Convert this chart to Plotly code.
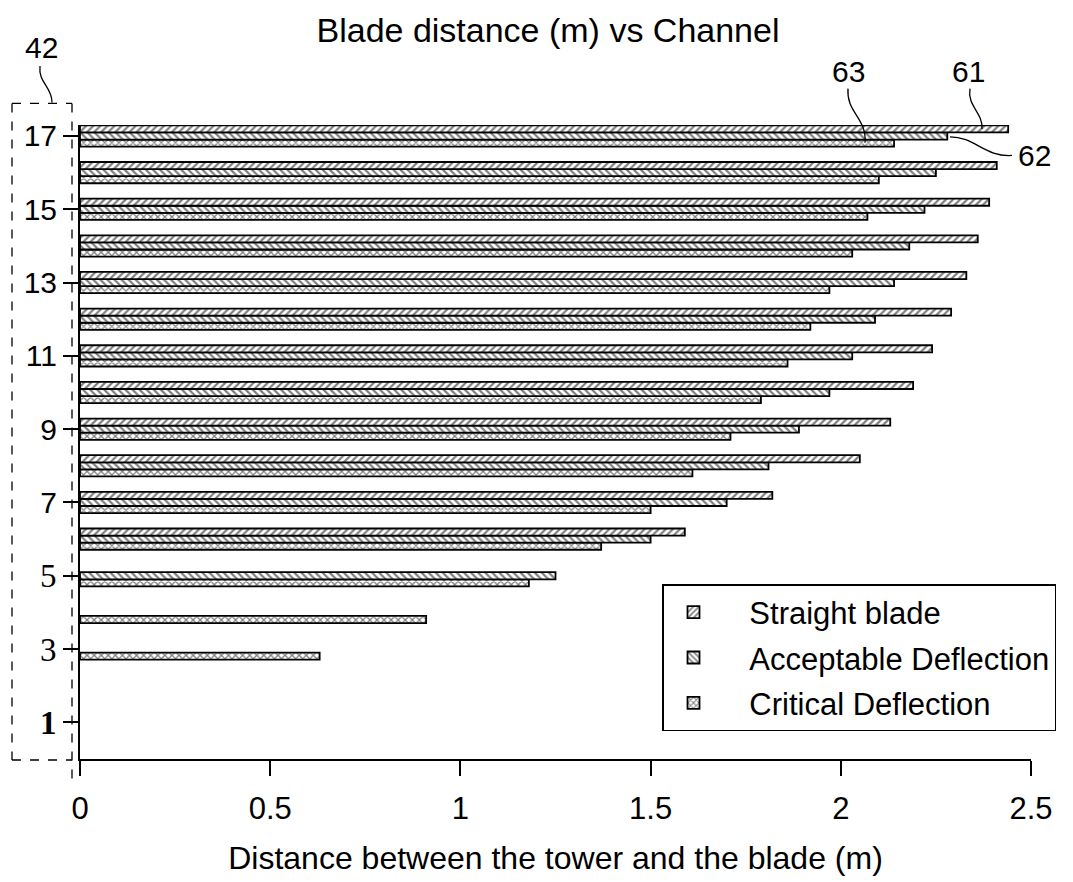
import plotly.graph_objects as go

# ---- data ----
channels = list(range(1, 18))
straight_blade = [None, None, None, None, None, 1.59, 1.82, 2.05, 2.13, 2.19, 2.24, 2.29, 2.33, 2.36, 2.39, 2.41, 2.44]
acceptable_deflection = [None, None, None, None, 1.25, 1.50, 1.70, 1.81, 1.89, 1.97, 2.03, 2.09, 2.14, 2.18, 2.22, 2.25, 2.28]
critical_deflection = [None, None, 0.63, 0.91, 1.18, 1.37, 1.50, 1.61, 1.71, 1.79, 1.86, 1.92, 1.97, 2.03, 2.07, 2.10, 2.14]

x_tickvals = [0, 0.5, 1, 1.5, 2, 2.5]
x_ticktext = ["0", "0.5", "1", "1.5", "2", "2.5"]
y_tickvals_upper = [7, 9, 11, 13, 15, 17]
y_ticktext_upper = ["7", "9", "11", "13", "15", "17"]
y_tickvals_lower = [1, 3, 5]
y_ticktext_lower = ["<b>1</b>", "3", "5"]

series_names = ["Straight blade", "Acceptable Deflection", "Critical Deflection"]

W, H = 1073, 882
ML, MR, MT, MB = 80, 42, 125, 112
PW, PH = W - ML - MR, H - MT - MB
FONT = "Liberation Sans"
SERIF = "Liberation Serif"
NB = "\u00a0" * 3
Y_RANGE = [0, 17.3]


def px(xp):
    return (xp - ML) / PW


def py(yp):
    return (H - MB - yp) / PH


def path(points):
    (x0, y0) = points[0]
    s = f"M {px(x0):.5f},{py(y0):.5f} C"
    for (x, y) in points[1:]:
        s += f" {px(x):.5f},{py(y):.5f}"
    return s


fig = go.Figure()

styles = [
    (series_names[2], critical_deflection, "x", 3),
    (series_names[1], acceptable_deflection, "\\", 2),
    (series_names[0], straight_blade, "/", 1),
]
for name, vals, shape, rank in styles:
    fig.add_trace(go.Bar(
        y=channels, x=vals, orientation="h", name=NB + name,
        legendrank=rank, legendgroup=name,
        marker=dict(color="white",
                    line=dict(color="black", width=1.8),
                    pattern=dict(shape=shape, fgcolor="black", bgcolor="white",
                                 size=5, solidity=0.45)),
    ))

# empty trace so the overlaying axis (serif labels 1, 3, 5) is drawn
fig.add_trace(go.Scatter(x=[], y=[], yaxis="y2", showlegend=False, hoverinfo="skip"))

axis_common = dict(showline=True, linecolor="black", linewidth=2,
                   ticks="outside", ticklen=15, tickwidth=1.5, tickcolor="black",
                   showgrid=False, zeroline=False)

fig.update_layout(
    width=W, height=H,
    margin=dict(l=ML, r=MR, t=MT, b=MB),
    paper_bgcolor="white", plot_bgcolor="white",
    font=dict(family=FONT, color="black", size=31),
    barmode="group", bargap=0.42, bargroupgap=0,
    title=dict(text="Blade distance (m) vs Channel", x=548 / W, xanchor="center",
               y=1 - 30 / H, yanchor="middle", xref="container", yref="container",
               font=dict(size=34, family=FONT)),
    legend=dict(x=px(662), y=py(592), xanchor="left", yanchor="top",
                bordercolor="black", borderwidth=1.5, bgcolor="white",
                font=dict(size=31, family=FONT), tracegroupgap=2,
                traceorder="grouped", itemwidth=50),
    xaxis=dict(range=[0, 2.5], tickvals=x_tickvals, ticktext=x_ticktext,
               ticklabelstandoff=6,
               title=dict(text="Distance between the tower and the blade (m)",
                          font=dict(size=32), standoff=21),
               **axis_common),
    yaxis=dict(range=Y_RANGE, tickvals=y_tickvals_upper, ticktext=y_ticktext_upper,
               tickfont=dict(family=FONT, size=30), **axis_common),
    yaxis2=dict(range=Y_RANGE, overlaying="y", side="left", anchor="x",
                tickvals=y_tickvals_lower, ticktext=y_ticktext_lower,
                tickfont=dict(family=SERIF, size=33), **axis_common),
)

dash = dict(color="black", width=1.3, dash="dash")
# dashed box around the channel labels (reference 42)
fig.add_shape(type="line", xref="paper", yref="paper", x0=px(12), y0=py(103), x1=px(72), y1=py(103), line=dash)
fig.add_shape(type="line", xref="paper", yref="paper", x0=px(12), y0=py(103), x1=px(12), y1=py(771), line=dash)
fig.add_shape(type="line", xref="paper", yref="paper", x0=px(12), y0=py(771), x1=px(72), y1=py(771), line=dash)
fig.add_shape(type="line", xref="paper", yref="paper", x0=px(72), y0=py(103), x1=px(72), y1=py(795), line=dash)

lead = dict(color="black", width=1.3)
fig.add_shape(type="path", xref="paper", yref="paper", line=lead,
              path=path([(40, 65), (38, 82), (52, 86), (52, 102)]))
fig.add_shape(type="path", xref="paper", yref="paper", line=lead,
              path=path([(848, 88), (846, 112), (867, 118), (865, 143)]))
fig.add_shape(type="path", xref="paper", yref="paper", line=lead,
              path=path([(970, 88), (967, 106), (983, 112), (982, 129)]))
fig.add_shape(type="path", xref="paper", yref="paper", line=lead,
              path=path([(1012, 156), (985, 158), (975, 137), (950, 137)]))

for label, xp, yp in [("42", 41, 46), ("63", 848, 71), ("61", 968, 71), ("62", 1034, 156)]:
    fig.add_annotation(text=label, xref="paper", yref="paper", x=px(xp), y=py(yp),
                       xanchor="center", yanchor="middle", showarrow=False,
                       font=dict(size=30, family=FONT))

fig.write_html("out.html", config={"displayModeBar": False},
               post_script="document.body.style.margin='0';")
